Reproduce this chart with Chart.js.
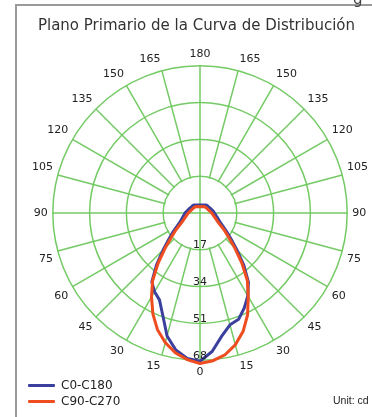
<!DOCTYPE html>
<html>
<head>
<meta charset="utf-8">
<script src="https://cdn.jsdelivr.net/npm/chart.js@4.4.0/dist/chart.umd.min.js"></script>
<style>
  html, body { margin: 0; padding: 0; background: #fff; }
  #wrap { position: relative; width: 372px; height: 417px; overflow: hidden; font-family: 'DejaVu Sans', sans-serif; }
  #frame { position: absolute; left: 15px; top: 4px; width: 420px; height: 460px; border-left: 2px solid #9a9a9a; border-top: 2px solid #9a9a9a; }
  #stray { position: absolute; left: 353px; top: -10px; font-size: 15px; color: #444; }
  #title { position: absolute; left: 0; top: 16px; width: 393px; text-align: center; font-size: 15px; line-height: 18px; color: #333; white-space: nowrap; }
  #legend { position: absolute; left: 28px; top: 377px; font-size: 12px; color: #222; }
  #legend .item { height: 16px; line-height: 16px; white-space: nowrap; }
  #legend .swatch { display: inline-block; width: 27px; height: 3px; vertical-align: middle; margin-right: 6px; border-radius: 1px; }
  #unit { position: absolute; left: 333px; top: 394px; font-family: 'Liberation Sans', sans-serif; font-size: 10.5px; color: #222; white-space: nowrap; }
</style>
</head>
<body>
<div id="wrap">
  <div id="frame"></div>
  <span id="stray">g</span>
  <div id="title">Plano Primario de la Curva de Distribución</div>
  <canvas id="polarChart"></canvas>
  <div id="legend"></div>
  <div id="unit">Unit: cd</div>
</div>
<script>
// --- Datos ---
// Ángulos de la curva (0 abajo, 90 a la izquierda, 180 arriba, 270 a la derecha)
const angles = [
  0, 5, 10, 15, 20, 25, 30, 35, 40, 45, 50, 55,
  60, 65, 70, 75, 80, 85, 90, 95, 100, 105, 110, 115,
  120, 125, 130, 135, 140, 145, 150, 155, 160, 165, 170, 175,
  180, 185, 190, 195, 200, 205, 210, 215, 220, 225, 230, 235,
  240, 245, 250, 255, 260, 265, 270, 275, 280, 285, 290, 295,
  300, 305, 310, 315, 320, 325, 330, 335, 340, 345, 350, 355
];

// Intensidad (cd) en el plano C0-C180
const c0c180 = [
  68.5, 67.5, 64.3, 58.8, 50.3, 44.3, 42.0, 38.8, 31.2, 24.0, 18.8, 15.2,
  12.2, 10.4, 9.2, 8.4, 7.8, 7.3, 6.9, 6.4, 6.0, 5.7, 5.4, 5.2,
  5.0, 4.9, 4.8, 4.8, 4.7, 4.5, 4.3, 4.1, 3.9, 3.8, 3.75, 3.7,
  3.7, 3.7, 3.75, 3.8, 3.9, 4.1, 4.3, 4.5, 4.7, 4.8, 4.8, 4.9,
  5.0, 5.2, 5.4, 5.7, 6.0, 6.4, 6.6, 7.1, 7.6, 8.3, 9.2, 10.4,
  12.2, 15.0, 18.8, 24.2, 31.5, 39.0, 44.2, 48.4, 52.2, 53.5, 57.8, 64.2
];

// Intensidad (cd) en el plano C90-C270
const c90c270 = [
  69.5, 68.0, 65.6, 62.0, 57.4, 51.5, 44.8, 38.2, 30.0, 22.6, 17.2, 13.6,
  10.6, 8.8, 7.7, 6.9, 6.3, 5.8, 5.4, 5.0, 4.7, 4.4, 4.2, 4.0,
  3.9, 3.8, 3.7, 3.7, 3.6, 3.5, 3.4, 3.2, 3.1, 3.0, 3.0, 2.9,
  2.9, 2.9, 3.0, 3.0, 3.1, 3.2, 3.4, 3.5, 3.6, 3.7, 3.7, 3.8,
  3.9, 4.0, 4.2, 4.4, 4.7, 5.0, 5.4, 5.8, 6.3, 6.9, 7.7, 8.8,
  10.6, 13.6, 17.2, 22.6, 30.0, 38.2, 44.6, 52.0, 58.2, 63.0, 66.5, 68.5
];

// Anillos del eje radial (cd)
const ringTicks = [17, 34, 51, 68];

const seriesNames = ['C0-C180', 'C90-C270'];
const seriesColors = ['#3b3f9e', '#ef4c1f'];
const gridColor = '#74ca64';

// Etiqueta que se ve en el borde: 0..180 en cada lado
function angleLabel(a) {
  return a <= 180 ? a : 360 - a;
}

/**
 * Tapa el centro del gráfico para que los radios empiecen en el primer anillo,
 * y vuelve a trazar los dos ejes principales que sí cruzan el centro.
 */
const innerHub = {
  id: 'innerHub',
  beforeDatasetsDraw(chart) {
    const scale = chart.scales.r;
    const ctx = chart.ctx;
    const rIn = scale.getDistanceFromCenterForValue(ringTicks[0]);
    ctx.save();
    ctx.beginPath();
    ctx.arc(scale.xCenter, scale.yCenter, rIn - 1, 0, Math.PI * 2);
    ctx.fillStyle = '#fff';
    ctx.fill();
    ctx.strokeStyle = gridColor;
    ctx.lineWidth = 1.5;
    [[0, 180], [90, 270]].forEach(([a1, a2]) => {
      const p1 = scale.getPointPosition(angles.indexOf(a1), rIn);
      const p2 = scale.getPointPosition(angles.indexOf(a2), rIn);
      ctx.beginPath();
      ctx.moveTo(p1.x, p1.y);
      ctx.lineTo(p2.x, p2.y);
      ctx.stroke();
    });
    ctx.restore();
  },
  // Los valores de los anillos van hacia abajo (Chart.js los giraría boca abajo)
  afterDatasetsDraw(chart) {
    const scale = chart.scales.r;
    const ctx = chart.ctx;
    ctx.save();
    ctx.font = "11px 'DejaVu Sans'";
    ctx.fillStyle = '#222';
    ctx.textAlign = 'center';
    ctx.textBaseline = 'bottom';
    ringTicks.forEach(v => {
      const p = scale.getPointPositionForValue(0, v);
      ctx.fillText(String(v), p.x, p.y + 1);
    });
    ctx.restore();
  }
};

function renderPolarChart() {
  const ctx = document.getElementById('polarChart');

  const chart = new Chart(ctx, {
    type: 'radar',
    data: {
      labels: angles,
      datasets: [
        {
          label: seriesNames[0],
          data: c0c180,
          borderColor: seriesColors[0],
          backgroundColor: seriesColors[0],
          borderWidth: 3,
          pointRadius: 0,
          fill: false,
          order: 1
        },
        {
          label: seriesNames[1],
          data: c90c270,
          borderColor: seriesColors[1],
          backgroundColor: seriesColors[1],
          borderWidth: 3,
          pointRadius: 0,
          fill: false,
          order: 0
        }
      ]
    },
    options: {
      responsive: true,
      maintainAspectRatio: false,
      animation: false,
      layout: {
        padding: { left: 32, right: 4, top: 45, bottom: 36 }
      },
      scales: {
        r: {
          min: 0,
          max: ringTicks[ringTicks.length - 1],
          startAngle: 180,
          ticks: { stepSize: ringTicks[0], display: false },
          grid: { circular: true, color: gridColor, lineWidth: 1.5 },
          angleLines: {
            color: (c) => (angles[c.index] % 15 === 0 ? gridColor : 'rgba(0,0,0,0)'),
            lineWidth: 1.5
          },
          pointLabels: {
            color: '#222',
            font: { family: "'DejaVu Sans'", size: 11 },
            padding: 5,
            callback: (label) => (label % 15 === 0 ? String(angleLabel(label)) : '')
          }
        }
      },
      plugins: {
        legend: { display: false },
        tooltip: { enabled: false }
      }
    },
    plugins: [innerHub]
  });

  // Leyenda en HTML, apilada como en el original
  const legend = document.getElementById('legend');
  chart.data.datasets.forEach(ds => {
    const row = document.createElement('div');
    row.className = 'item';
    row.innerHTML = `<span class="swatch" style="background:${ds.borderColor}"></span>${ds.label}`;
    legend.appendChild(row);
  });
}

document.addEventListener('DOMContentLoaded', () => {
  renderPolarChart();
});
</script>
</body>
</html>
